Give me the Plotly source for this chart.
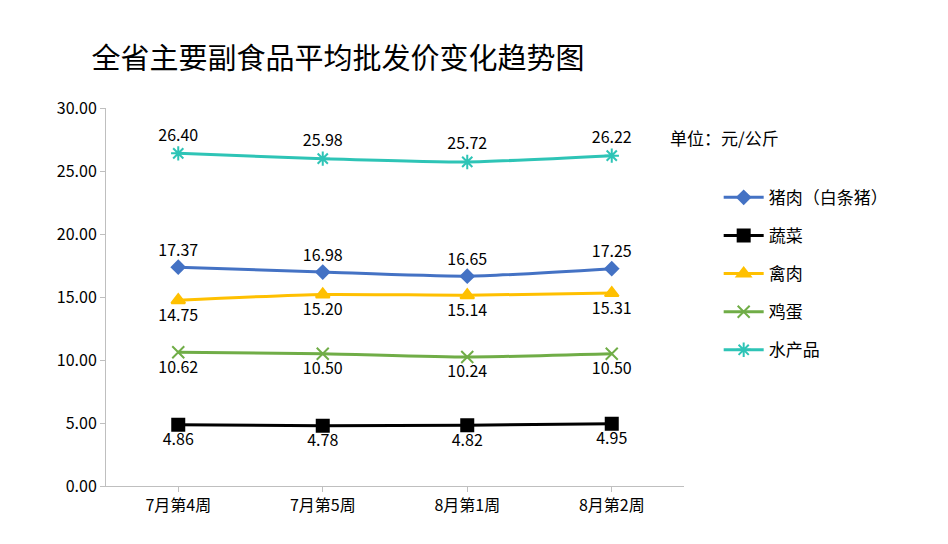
import plotly.graph_objects as go

weeks = ['7月第4周', '7月第5周', '8月第1周', '8月第2周']
pork = [17.37, 16.98, 16.65, 17.25]
veg = [4.86, 4.78, 4.82, 4.95]
poultry = [14.75, 15.20, 15.14, 15.31]
egg = [10.62, 10.50, 10.24, 10.50]
fish = [26.40, 25.98, 25.72, 26.22]

series = [
    ('猪肉（白条猪）', pork, '#4472C4', 'diamond', 10, 'top center'),
    ('蔬菜', veg, '#000000', 'square', 12, 'bottom center'),
    ('禽肉', poultry, '#FFC000', 'triangle-up', 12, 'bottom center'),
    ('鸡蛋', egg, '#70AD47', 'x-thin', 12, 'bottom center'),
    ('水产品', fish, '#2EC4B6', 'asterisk', 12, 'top center'),
]

fig = go.Figure()
for name, vals, color, sym, size, pos in series:
    fig.add_trace(go.Scatter(
        x=weeks, y=vals, name=name, legendgroup=name,
        mode='lines+markers+text',
        line=dict(color=color, width=3, shape='spline', smoothing=0.6),
        marker=dict(symbol=sym, size=size, color=color,
                    line=dict(color=color, width=2)),
        text=[f'{v:.2f}' for v in vals], textposition=pos,
        textfont=dict(size=16, color='#000000'),
    ))

fig.update_layout(
    width=948, height=544,
    paper_bgcolor='white', plot_bgcolor='white',
    font=dict(family='Noto Sans CJK SC', size=16, color='#000000'),
    title=dict(text='全省主要副食品平均批发价变化趋势图', x=0.088, y=0.925,
               xanchor='left', font=dict(size=29)),
    margin=dict(l=98, r=272, t=100, b=66),
    xaxis=dict(showline=True, linecolor='#BFBFBF', ticks='outside',
               tickcolor='#BFBFBF', range=[-0.5, 3.5], showgrid=False,
               tickfont=dict(size=16)),
    yaxis=dict(range=[0, 30], dtick=5, tickformat='.2f', showgrid=False,
               showline=True, linecolor='#BFBFBF', ticks='outside',
               tickcolor='#BFBFBF', zeroline=False, tickfont=dict(size=16)),
    legend=dict(x=1.06, y=0.81, yanchor='top', font=dict(size=17),
                tracegroupgap=13, itemwidth=40),
    showlegend=True,
)
fig.add_annotation(text='单位：元/公斤', xref='paper', yref='paper',
                   x=1.07, y=0.96, xanchor='center', showarrow=False,
                   font=dict(size=17))
fig.write_html('out.html')
